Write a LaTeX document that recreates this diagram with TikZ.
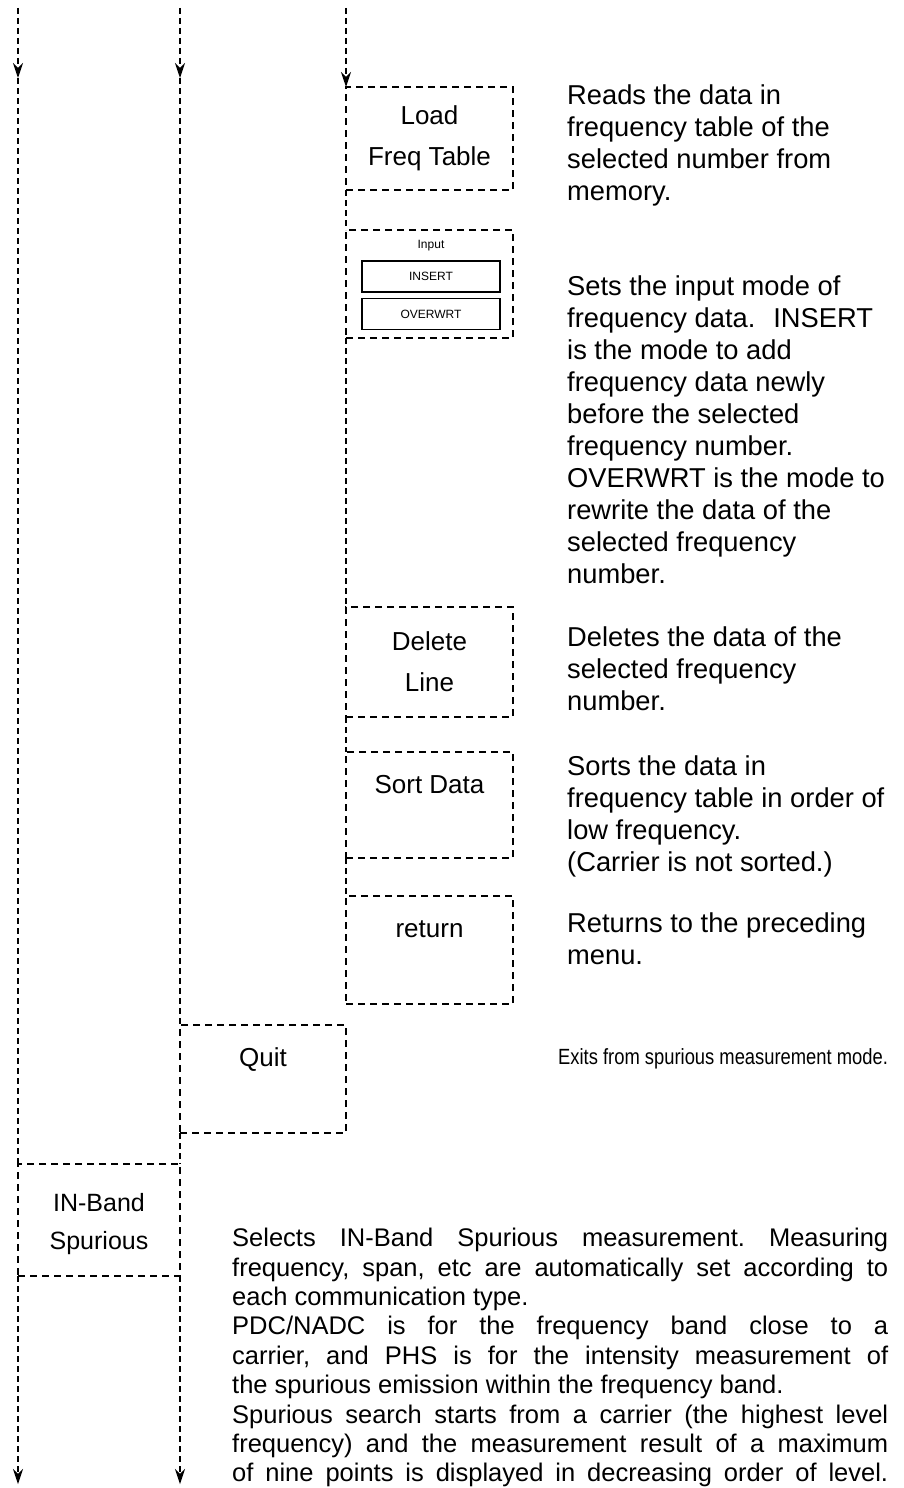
\documentclass[tikz,border=0pt]{standalone}
\usepackage{fontspec}
\setmainfont{Liberation Sans}
\usetikzlibrary{arrows.meta}
\frenchspacing
\begin{document}
\begin{tikzpicture}[x=1pt,y=-1pt,
  dl/.style={line width=1.2pt, dash pattern=on 6pt off 4pt},
  arr/.style={-{Stealth[length=15pt,width=10pt]}},
  dbox/.style={draw, line width=1.2pt, dash pattern=on 7pt off 5pt, inner sep=0pt, outer sep=0pt},
  sbox/.style={draw, line width=1.6pt, inner sep=0pt, outer sep=0pt, minimum width=138pt, minimum height=31pt, font=\fontsize{12}{14}\selectfont},
  lab/.style={font=\fontsize{26}{41}\selectfont, align=center, inner sep=0pt},
  desc/.style={font=\fontsize{27.3}{32}\selectfont, align=left, anchor=north west, inner sep=0pt}
]
\useasboundingbox (0,0) rectangle (904,1488);

% boxes
\node[dbox, minimum width=167pt, minimum height=103pt] (load)   at (429.5,138.5) {};
\node[dbox, minimum width=167pt, minimum height=108pt] (input)  at (429.5,284) {};
\node[dbox, minimum width=167pt, minimum height=110pt] (delete) at (429.5,662) {};
\node[dbox, minimum width=167pt, minimum height=106pt] (sort)   at (429.5,805) {};
\node[dbox, minimum width=167pt, minimum height=108pt] (ret)    at (429.5,950) {};
\node[dbox, minimum width=166pt, minimum height=108pt] (quit)   at (263,1079) {};
\node[dbox, minimum width=162pt, minimum height=112pt] (inband) at (99,1220) {};

% box labels
\node[lab] (loadlab) at (429.5,138) {Load\\Freq Table};
\node[font=\fontsize{12}{14}\selectfont, inner sep=0pt] (inputlab) at (431,246) {Input};
\node[sbox] (insert) at (431,276.5) {INSERT};
\node[sbox] (overwrt) at (431,314) {OVERWRT};
\node[lab] (deletelab) at (429.5,662) {Delete\\Line};
\node[lab] (sortlab) at (429.5,785) {Sort Data};
\node[lab] (retlab) at (429.5,929) {return};
\node[lab] (quitlab) at (263,1060) {Quit};
\node[lab, font=\fontsize{25}{38}\selectfont] (inbandlab) at (99,1224) {IN-Band\\Spurious};

% line coordinates
\coordinate (t1) at (18,8);
\coordinate (t2) at (180,8);
\coordinate (t3) at (346,8);
\coordinate (a1) at (18,78);
\coordinate (a2) at (180,78);
\coordinate (b1) at (18,1484);
\coordinate (b2) at (180,1484);

% column 1
\draw[dl,arr] (t1) -- (a1);
\draw[dl] (a1) -- (inband.north west);
\draw[dl,arr] (inband.south west) -- (b1);
% column 2
\draw[dl,arr] (t2) -- (a2);
\draw[dl] (a2) -- (quit.north west);
\draw[dl] (quit.south west) -- (inband.north east);
\draw[dl,arr] (inband.south east) -- (b2);
% column 3
\draw[dl,arr] (t3) -- (load.north west);
\draw[dl] (load.south west) -- (input.north west);
\draw[dl] (input.south west) -- (delete.north west);
\draw[dl] (delete.south west) -- (sort.north west);
\draw[dl] (sort.south west) -- (ret.north west);

% descriptions
\node[desc] (d1) at (567,85) {Reads the data in\\frequency table of the\\selected number from\\memory.};
\node[desc] (d2) at (567,276) {Sets the input mode of\\frequency data.\hspace{18pt}INSERT\\is the mode to add\\frequency data newly\\before the selected\\frequency number.\\OVERWRT is the mode to\\rewrite the data of the\\selected frequency\\number.};
\node[desc] (d3) at (567,627) {Deletes the data of the\\selected frequency\\number.};
\node[desc] (d4) at (567,756) {Sorts the data in\\frequency table in order of\\low frequency.\\(Carrier is not sorted.)};
\node[desc] (d5) at (567,913) {Returns to the preceding\\menu.};
\node[anchor=west, inner sep=0pt] (d6) at (558,1059) {\scalebox{0.835}[1]{\fontsize{22}{26}\selectfont Exits from spurious measurement mode.}};

\node[font=\fontsize{25.5}{29.4}\selectfont, align=left, anchor=north west, inner sep=0pt] (d7) at (232,1228) {%
\makebox[656pt][s]{Selects IN-Band Spurious measurement. Measuring}\\
\makebox[656pt][s]{frequency, span, etc are automatically set according to}\\
each communication type.\\
\makebox[656pt][s]{PDC/NADC is for the frequency band close to a}\\
\makebox[656pt][s]{carrier, and PHS is for the intensity measurement of}\\
the spurious emission within the frequency band.\\
\makebox[656pt][s]{Spurious search starts from a carrier (the highest level}\\
\makebox[656pt][s]{frequency) and the measurement result of a maximum}\\
\makebox[656pt][s]{of nine points is displayed in decreasing order of level.}};
\end{tikzpicture}
\end{document}
